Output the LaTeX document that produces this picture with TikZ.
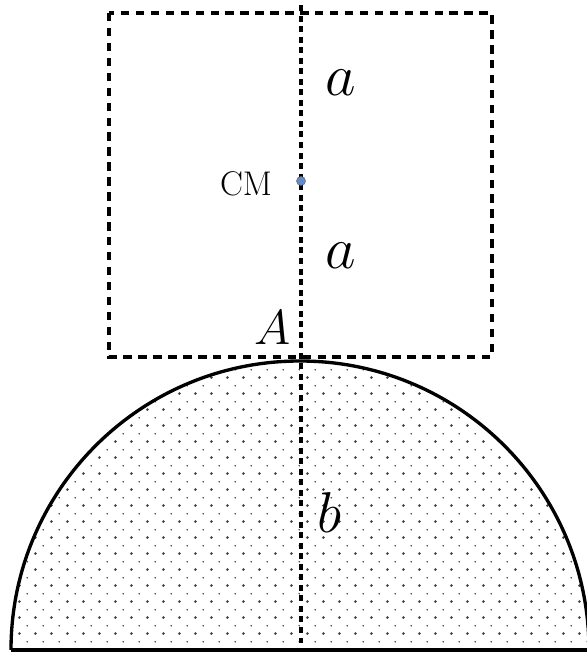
\documentclass[tikz,border=0pt]{standalone}
\usepackage{amsmath, amssymb}
\usepackage{tikz}
\usepackage{xcolor}
\usetikzlibrary{patterns.meta}

\definecolor{cmblue}{RGB}{95,140,205}

\tikzdeclarepattern{
  name=sanddots, type=uncolored,
  bounding box={(0pt,0pt) and (9pt,9pt)},
  tile size={(9pt,9pt)},
  code={
    \fill (2pt,2pt) circle (0.85pt);
    \fill (6.5pt,6.5pt) circle (0.5pt);
  }
}

\tikzset{
  frame/.style={line width=2.5pt, dash pattern=on 4.8pt off 3.7pt},
  axis/.style={line width=1.8pt, dash pattern=on 3.4pt off 2.6pt},
  lbl/.style={inner sep=0pt, font=\fontsize{20.74}{24}\selectfont},
}

\begin{document}
\begin{tikzpicture}[x=0.02cm, y=0.02cm]
    \useasboundingbox (0,0) rectangle (587,652);

    % Half disc (b)
    \fill[pattern=sanddots, pattern color=black!75] (11,2) arc (180:0:289) -- cycle;
    \draw[line width=1.9pt] (11,2) arc (180:0:289);
    \draw[line width=2.4pt] (11,2) -- (589,2);

    % Symmetry axis
    \draw[axis] (301,647) -- (301,0);

    % Block outline
    \draw[frame] (109,639) rectangle (492,295);

    % Centre of mass
    \filldraw[fill=cmblue, draw=black!60, line width=0.3pt] (301,471) circle (4.5);
    \node[lbl, scale=0.94] (cm) at (246,468) {CM};

    % Labels
    \node[lbl, scale=1.63] (atop) at (341,569) {$a$};
    \node[lbl, scale=1.63] (abot) at (341,396) {$a$};
    \node[lbl, scale=1.35] (pA) at (273,324) {$A$};
    \node[lbl, scale=1.58] (rb) at (329,139) {$b$};
\end{tikzpicture}
\end{document}
